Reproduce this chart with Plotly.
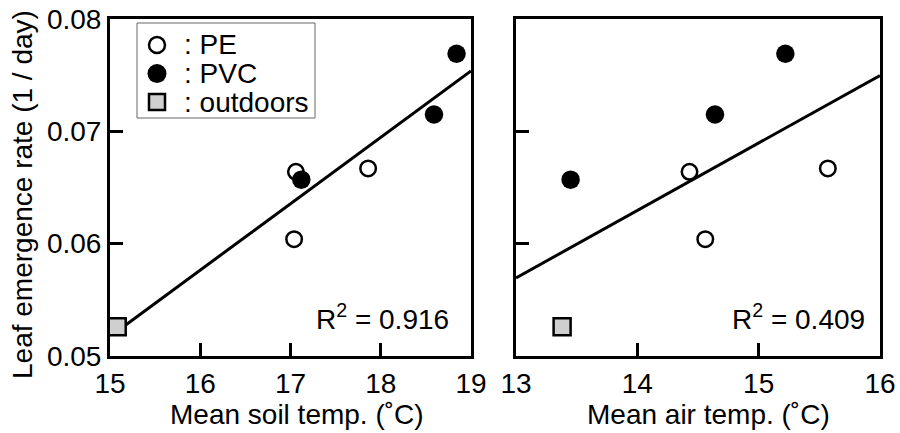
import numpy as np
import plotly.graph_objects as go
from plotly.subplots import make_subplots

# Leaf emergence rate (1/day) for each treatment
pe_rate = [0.0604, 0.0664, 0.0667]
pvc_rate = [0.0657, 0.0715, 0.0769]
out_rate = [0.0526]

# Mean soil temperature (degC)
pe_soil = [17.04, 17.06, 17.86]
pvc_soil = [17.12, 18.59, 18.84]
out_soil = [15.08]

# Mean air temperature (degC)
pe_air = [14.56, 14.43, 15.57]
pvc_air = [13.45, 14.64, 15.22]
out_air = [13.38]

r2_labels = ["R<sup>2</sup> = 0.916", "R<sup>2</sup> = 0.409"]
soil_ticks = [15, 16, 17, 18, 19]
air_ticks = [13, 14, 15, 16]
rate_ticks = [0.05, 0.06, 0.07, 0.08]
legend_names = [": PE", ": PVC", ": outdoors"]

FONT = "Liberation Sans, Arial, Helvetica, sans-serif"
FS = 28
W, H = 900, 433

PE_MARK = dict(symbol="circle", size=15.5, color="white", line=dict(color="black", width=2.5))
PVC_MARK = dict(symbol="circle", size=18.5, color="black", line=dict(color="black", width=0))
OUT_MARK = dict(symbol="square", size=17, color="#cfcfcf", line=dict(color="black", width=2.5))

fig = make_subplots(rows=1, cols=2)


def add_panel(col, pe_x, pvc_x, out_x, line_x):
    xs = np.array(pe_x + pvc_x + out_x)
    ys = np.array(pe_rate + pvc_rate + out_rate)
    slope, intercept = np.polyfit(xs, ys, 1)
    x_line = np.array(line_x)
    fig.add_trace(go.Scatter(x=x_line, y=slope * x_line + intercept, mode="lines",
                             line=dict(color="black", width=3), showlegend=False,
                             hoverinfo="skip"), row=1, col=col)
    fig.add_trace(go.Scatter(x=pe_x, y=pe_rate, mode="markers", marker=PE_MARK,
                             showlegend=False, cliponaxis=False), row=1, col=col)
    fig.add_trace(go.Scatter(x=pvc_x, y=pvc_rate, mode="markers", marker=PVC_MARK,
                             showlegend=False, cliponaxis=False), row=1, col=col)
    fig.add_trace(go.Scatter(x=out_x, y=out_rate, mode="markers", marker=OUT_MARK,
                             showlegend=False, cliponaxis=False), row=1, col=col)


add_panel(1, pe_soil, pvc_soil, out_soil, [out_soil[0], 19.0])
add_panel(2, pe_air, pvc_air, out_air, [13.0, 16.0])

axis_common = dict(showline=True, linecolor="black", linewidth=3, mirror=True,
                   ticks="inside", ticklen=13, tickwidth=2.5, tickcolor="black",
                   showgrid=False, zeroline=False, automargin=False,
                   tickfont=dict(family=FONT, size=FS, color="black"))
fig.update_xaxes(**axis_common, ticklabelstandoff=0)
fig.update_yaxes(**axis_common)

fig.update_layout(
    width=W, height=H,
    margin=dict(l=0, r=0, t=0, b=0, autoexpand=False),
    paper_bgcolor="white", plot_bgcolor="white",
    font=dict(family=FONT, size=FS, color="black"),
    showlegend=False,
    xaxis=dict(domain=[110 / W, 471 / W], range=[15, 19], tickvals=soil_ticks),
    xaxis2=dict(domain=[516 / W, 880 / W], range=[13, 16], tickvals=air_ticks),
    yaxis=dict(domain=[1 - 356 / H, 1 - 19 / H], range=[0.05, 0.08],
               tickvals=rate_ticks, tickformat=".2f"),
    yaxis2=dict(domain=[1 - 356 / H, 1 - 19 / H], range=[0.05, 0.08],
                tickvals=rate_ticks, showticklabels=False),
)

title_font = dict(family=FONT, size=FS, color="black")


def paper_text(text, px, py, **kw):
    # place text centred on a pixel position of the page
    fig.add_annotation(text=text, xref="paper", yref="paper", x=px / W, y=1 - py / H,
                       xanchor=kw.pop("xanchor", "center"), yanchor="middle",
                       showarrow=False, font=title_font, **kw)


# axis titles
paper_text("Leaf emergence rate (1 / day)", 22, 195, textangle=-90)
paper_text("Mean soil temp. (˚C)", 297, 414)
paper_text("Mean air temp. (˚C)", 708, 414)

# R^2 labels
fig.add_annotation(text=r2_labels[0], xref="x", yref="y", x=19, y=0.0535,
                   xanchor="right", yanchor="middle", showarrow=False, xshift=-20,
                   font=title_font)
fig.add_annotation(text=r2_labels[1], xref="x2", yref="y2", x=16, y=0.0535,
                   xanchor="right", yanchor="middle", showarrow=False, xshift=-13,
                   font=title_font)

# legend box with symbols and labels
fig.add_shape(type="rect", xref="paper", yref="paper",
              x0=137 / W, x1=315 / W, y0=1 - 118 / H, y1=1 - 23 / H,
              line=dict(color="#666666", width=1), fillcolor="white", layer="above")
legend_rows = [45, 73.5, 102]
sym_x = 157 / W
fig.add_shape(type="circle", xref="paper", yref="paper", xsizemode="pixel",
              ysizemode="pixel", xanchor=sym_x, yanchor=1 - legend_rows[0] / H,
              x0=-8, x1=8, y0=-8, y1=8, fillcolor="white",
              line=dict(color="black", width=2.5), layer="above")
fig.add_shape(type="circle", xref="paper", yref="paper", xsizemode="pixel",
              ysizemode="pixel", xanchor=sym_x, yanchor=1 - legend_rows[1] / H,
              x0=-9.5, x1=9.5, y0=-9.5, y1=9.5, fillcolor="black",
              line=dict(color="black", width=0), layer="above")
fig.add_shape(type="rect", xref="paper", yref="paper", xsizemode="pixel",
              ysizemode="pixel", xanchor=sym_x, yanchor=1 - legend_rows[2] / H,
              x0=-8, x1=8, y0=-8, y1=8, fillcolor="#cfcfcf",
              line=dict(color="black", width=2.5), layer="above")
for name, row in zip(legend_names, legend_rows):
    paper_text(name, 182, row, xanchor="left")

fig.write_html("out.html")
